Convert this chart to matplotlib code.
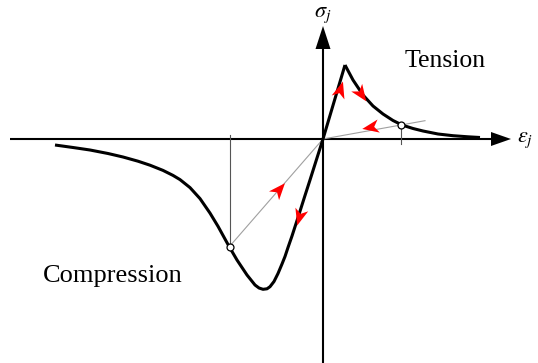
import matplotlib
matplotlib.use("Agg")
import matplotlib.pyplot as plt
from matplotlib.markers import MarkerStyle
from matplotlib.transforms import Affine2D
import numpy as np

# schematic data, units are pixels measured from the origin
comp_strain = [-268, -250, -233, -215, -200, -185, -173, -160, -150, -143, -133,
               -123, -113, -105, -94, -86, -76, -68, -64, -60, -56, -53, -49,
               -45, -41, -38, -35, -31, -25, -18, -13, 0, 22]
comp_stress = [-6, -8.5, -11, -14.5, -18, -22.2, -26.2, -31.4, -36.4, -40.6, -48.6,
               -59.6, -74.1, -87.3, -107.3, -121, -136, -146, -149, -150.3, -149.8, -147.7, -142.5,
               -134.5, -125, -117.5, -108.5, -97, -78.5, -56.5, -41, 0, 74]

tens_strain = [22, 30, 40, 50, 60, 70, 79, 90, 100, 115, 130, 145, 157]
tens_stress = [74, 59, 44, 33, 25, 18.5, 14, 10.5, 8, 5, 3.3, 2.2, 1.5]

comp_point = (-93.5, -107.5)
tens_point = (78, 14)

# red arrowheads: tip x, tip y, direction (deg)
arrow_x = [19, 43, 39, -39, -26]
arrow_y = [58, 38, 11, -44, -86]
arrow_dir = [73, -55, 190, 49, -106]

fig = plt.figure(figsize=(5.38, 3.63), dpi=100)
ax = fig.add_axes([0, 0, 1, 1])
ax.set_xlim(-323, 215)
ax.set_ylim(-224, 139)
ax.axis('off')

# axes with arrows
ax.plot([-313, 170], [0, 0], color='black', lw=1.5, solid_capstyle='butt')
ax.plot([0, 0], [-224, 95], color='black', lw=1.5, solid_capstyle='butt')
ax.fill([188, 168, 168], [0, 7, -7], color='black', lw=0)
ax.fill([0, -7.5, 7.5], [113, 90, 90], color='black', lw=0)

# unloading lines and marker ticks
ax.plot([comp_point[0], 0], [comp_point[1], 0], color='#a0a0a0', lw=0.8)
ax.plot([0, 102], [0, 102 * tens_point[1] / tens_point[0]], color='#a0a0a0', lw=0.8)
ax.plot([comp_point[0], comp_point[0]], [4, comp_point[1]], color='#555555', lw=0.8)
ax.plot([tens_point[0], tens_point[0]], [11, -5], color='#555555', lw=0.8)

# envelope curves
ax.plot(comp_strain, comp_stress, color='black', lw=2.2,
        solid_capstyle='butt', solid_joinstyle='round')
ax.plot(tens_strain, tens_stress, color='black', lw=2.2,
        solid_capstyle='butt', solid_joinstyle='round')

ax.plot(*comp_point, 'o', ms=5, mfc='white', mec='black', mew=0.9)
ax.plot(*tens_point, 'o', ms=5, mfc='white', mec='black', mew=0.9)

# notched arrowheads, drawn as rotated markers with the tip at (x, y)
head = [(1, 0), (-1, 0.8), (-0.45, 0), (-1, -0.8), (1, 0)]
ms = 12
half_len = 0.5 * ms * 100 / 72
for x, y, a in zip(arrow_x, arrow_y, arrow_dir):
    m = MarkerStyle(head, transform=Affine2D().rotate_deg(a))
    ax.plot(x - half_len * np.cos(np.radians(a)), y - half_len * np.sin(np.radians(a)),
            marker=m, ms=ms, color='red', mec='red', mew=0, ls='none')

plt.rcParams['mathtext.fontset'] = 'stix'
ax.text(0, 124, r'$\sigma_j$', fontsize=16, ha='center', va='center')
ax.text(202, -1, r'$\varepsilon_j$', fontsize=16, ha='center', va='center')
ax.text(122, 72, 'Tension', fontsize=18.5, family='Liberation Serif',
        ha='center', va='baseline')
ax.text(-280, -143, 'Compression', fontsize=19, family='Liberation Serif',
        ha='left', va='baseline')

fig.savefig('out.png', dpi=100)
